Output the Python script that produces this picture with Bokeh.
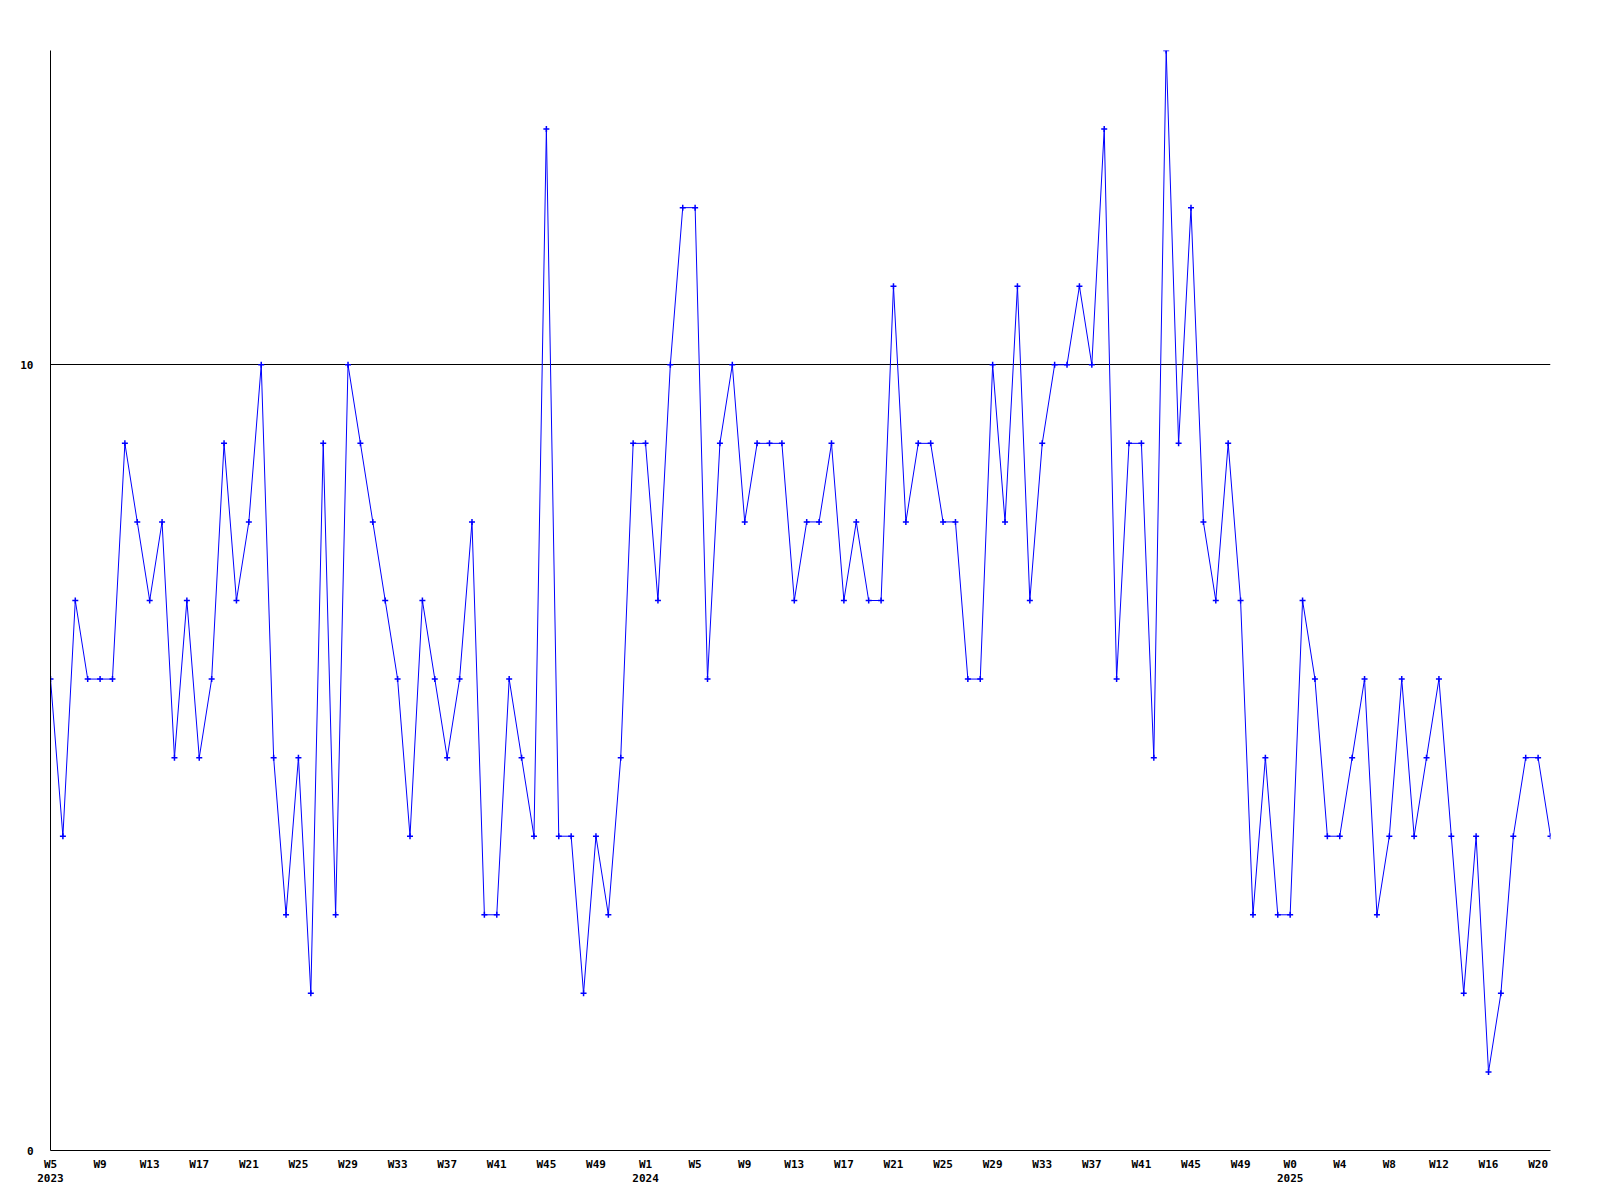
from bokeh.plotting import figure
from bokeh.models import Range1d, FixedTicker, LinearAxis, Grid
from bokeh.embed import file_html
from bokeh.resources import INLINE

# weekly counts, 2023 W5 .. 2025 W21
values = [
    6, 4, 7, 6, 6, 6, 9, 8, 7, 8, 5, 7, 5, 6, 9, 7, 8, 10, 5, 3,
    5, 2, 9, 3, 10, 9, 8, 7, 6, 4, 7, 6, 5, 6, 8, 3, 3, 6, 5, 4,
    13, 4, 4, 2, 4, 3, 5, 9, 9, 7, 10, 12, 12, 6, 9, 10, 8, 9, 9, 9,
    7, 8, 8, 9, 7, 8, 7, 7, 11, 8, 9, 9, 8, 8, 6, 6, 10, 8, 11, 7,
    9, 10, 10, 11, 10, 13, 6, 9, 9, 5, 14, 9, 12, 8, 7, 9, 7, 3, 5, 3,
    3, 7, 6, 4, 4, 5, 6, 3, 4, 6, 4, 5, 6, 4, 2, 4, 1, 2, 4, 5,
    5, 4,
]
x_idx = list(range(len(values)))

tick_labels = [
    "W5", "W9", "W13", "W17", "W21", "W25", "W29", "W33", "W37", "W41", "W45", "W49",
    "W1", "W5", "W9", "W13", "W17", "W21", "W25", "W29", "W33", "W37", "W41", "W45", "W49",
    "W0", "W4", "W8", "W12", "W16", "W20",
]
tick_step = 4
tick_pos = [i * tick_step for i in range(len(tick_labels))]

years = ["2023", "2024", "2025"]
year_pos = [0, 48, 100]

y_ticks = [0, 10]

FONT = "DejaVu Sans Mono"

p = figure(frame_width=1500, frame_height=1100,
           min_border_left=50, min_border_top=50, min_border_right=30, min_border_bottom=10,
           output_backend="svg", toolbar_location=None,
           x_range=Range1d(0, len(values) - 1), y_range=Range1d(0, 14),
           x_axis_location=None, y_axis_location=None)
p.outline_line_color = None
p.background_fill_color = "white"
p.border_fill_color = "white"


def style_axis(ax):
    ax.major_tick_out = 0
    ax.major_tick_in = 0
    ax.minor_tick_out = 0
    ax.minor_tick_in = 0
    ax.major_label_text_font = FONT
    ax.major_label_text_font_style = "bold"
    ax.major_label_text_font_size = "11px"
    ax.major_label_text_color = "black"


# y axis
yax = LinearAxis(ticker=FixedTicker(ticks=y_ticks))
style_axis(yax)
yax.axis_line_color = "black"
yax.axis_line_width = 1
yax.major_label_standoff = 17
p.add_layout(yax, "left")

# x axis (weeks)
xax = LinearAxis(ticker=FixedTicker(ticks=tick_pos))
style_axis(xax)
xax.major_label_overrides = {pos: lab for pos, lab in zip(tick_pos, tick_labels)}
xax.axis_line_color = "black"
xax.major_label_standoff = 7
p.add_layout(xax, "below")

# x axis (years)
yrax = LinearAxis(ticker=FixedTicker(ticks=year_pos))
style_axis(yrax)
yrax.major_label_overrides = {pos: lab for pos, lab in zip(year_pos, years)}
yrax.axis_line_color = None
yrax.major_label_standoff = 0
p.add_layout(yrax, "below")

p.xgrid.visible = False
p.ygrid.visible = False
g = Grid(dimension=1, ticker=FixedTicker(ticks=[10]))
g.grid_line_color = "black"
g.grid_line_width = 1
p.add_layout(g)

p.line(x_idx, values, line_color="#0000ff", line_width=1)
p.scatter(x_idx, values, marker="cross", size=6, line_color="#0000ff", line_width=1.5)

open("out.html", "w").write(file_html(p, INLINE))
